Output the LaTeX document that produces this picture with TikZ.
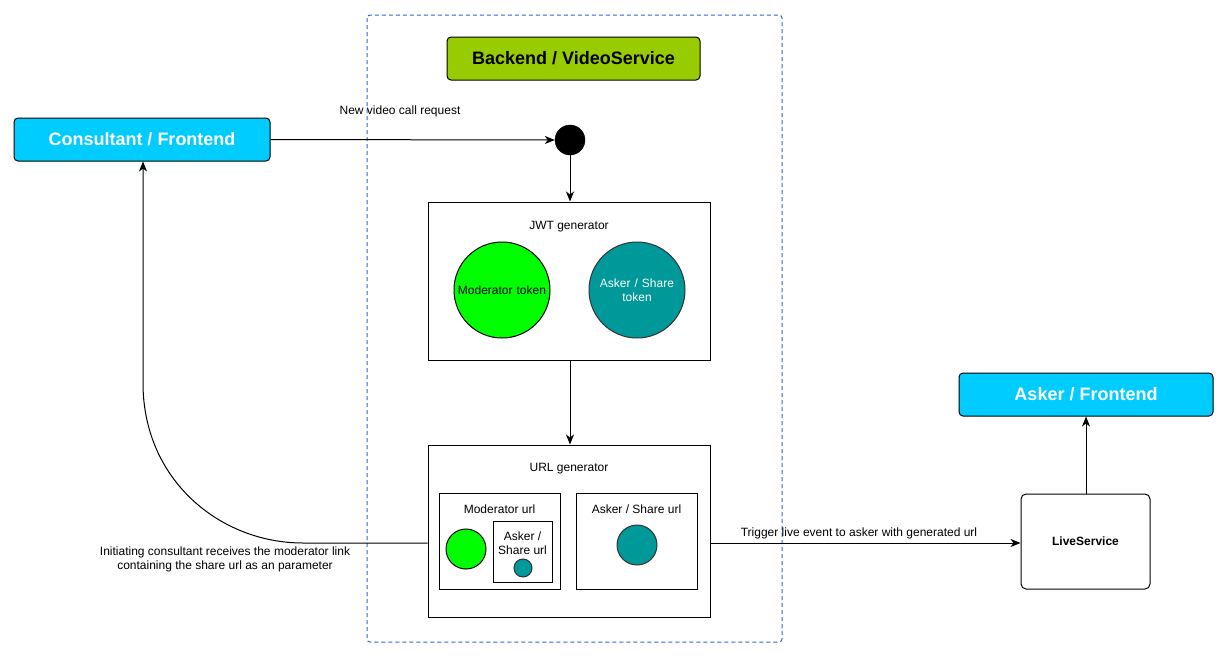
\documentclass[tikz,border=0pt]{standalone}
\usepackage{fontspec}
\setmainfont{Liberation Sans}
\usetikzlibrary{arrows.meta}
\definecolor{cyanbox}{HTML}{00CCFF}
\definecolor{greenbox}{HTML}{99CC00}
\definecolor{lime}{HTML}{00FF00}
\definecolor{tealc}{HTML}{009999}
\definecolor{dashblue}{HTML}{2F62F0}
\tikzset{
  every node/.style={font=\fontsize{12}{14}\selectfont, inner sep=0pt},
  title/.style={draw=black, line width=1pt, rounded corners=4pt, font=\fontsize{18}{21}\selectfont\bfseries, minimum height=43pt},
  plainbox/.style={draw=black, line width=1pt, fill=white},
  conn/.style={draw=black, line width=1pt, -{Stealth[length=10pt,width=8pt,inset=3pt]}},
  lbl/.style={align=center, font=\fontsize{12}{14}\selectfont},
}
\begin{document}
\begin{tikzpicture}[x=1pt,y=-1pt]
\useasboundingbox (0,0) rectangle (1229,659);
\fill[white] (0,0) rectangle (1229,659);
% frame
\draw[dashblue, dash pattern=on 4pt off 3pt, line width=1pt, rounded corners=3pt] (367,15) rectangle (782,642);
% titles
\node[title, fill=greenbox, text=black, minimum width=253pt] (backend) at (573.5,58.5) {Backend / VideoService};
\node[title, fill=cyanbox, text=white, minimum width=256pt] (consultant) at (142,139.5) {Consultant / Frontend};
\node[title, fill=cyanbox, text=white, minimum width=254pt] (asker) at (1086,394.5) {Asker / Frontend};
% start dot
\node[circle, fill=black, draw=black, minimum size=30pt] (start) at (570,140) {};
% JWT generator
\node[plainbox, minimum width=282pt, minimum height=158pt] (jwt) at (569,281) {};
\node[lbl] (jwtl) at (569,227) {JWT generator};
\node[circle, draw=black, line width=1pt, fill=lime, minimum size=96pt, text width=90pt, align=center] (modtok) at (502,290) {Moderator token};
\node[circle, draw=black!80, line width=1pt, fill=tealc, text=white, minimum size=96pt, text width=90pt, align=center] (asktok) at (637,290) {Asker / Share\\token};
% URL generator
\node[plainbox, minimum width=282pt, minimum height=172pt] (url) at (569,531) {};
\node[lbl] (urll) at (569,469) {URL generator};
\node[plainbox, minimum width=121pt, minimum height=96pt] (modurl) at (499.5,541) {};
\node[lbl] (modurll) at (499.5,509) {Moderator url};
\node[circle, draw=black, line width=1pt, fill=lime, minimum size=40pt] (modc) at (466,549) {};
\node[plainbox, minimum width=59pt, minimum height=61pt] (inner) at (522.5,551.5) {};
\node[lbl] (innerl) at (522.5,543) {Asker /\\Share url};
\node[circle, draw=black!80, line width=1pt, fill=tealc, minimum size=18pt] (innerc) at (523,568) {};
\node[plainbox, minimum width=121pt, minimum height=96pt] (askurl) at (636.5,541) {};
\node[lbl] (askurll) at (636.5,509) {Asker / Share url};
\node[circle, draw=black!80, line width=1pt, fill=tealc, minimum size=40pt] (askc) at (637,545) {};
% LiveService
\node[draw=black, line width=1pt, fill=white, rounded corners=5pt, minimum width=129pt, minimum height=95pt, font=\fontsize{12}{14}\selectfont\bfseries] (live) at (1085.5,541.5) {LiveService};
% connectors
\draw[conn] (consultant.east) -- (start.west);
\node[lbl] (l1) at (400,111) {New video call request};
\draw[conn] (start.south) -- (jwt.north -| start.south);
\draw[conn] (jwt.south -| start.south) -- (url.north -| start.south);
\coordinate (urlR) at (url.east |- 0,543);
\coordinate (urlL) at (url.west |- 0,543);
\draw[conn] (urlR) -- (live.west |- urlR);
\node[lbl] (l2) at (859,533) {Trigger live event to asker with generated url};
\draw[conn] (live.north -| asker.south) -- (asker.south);
\coordinate (cv1) at (303,543);
\coordinate (cv2) at (143,383);
\draw[conn] (urlL) -- (cv1) .. controls (220,543) and (143,480) .. (cv2) -- (consultant.south -| cv2);
\node[lbl] (l3) at (225,559) {Initiating consultant receives the moderator link\\containing the share url as an parameter};
\end{tikzpicture}
\end{document}
